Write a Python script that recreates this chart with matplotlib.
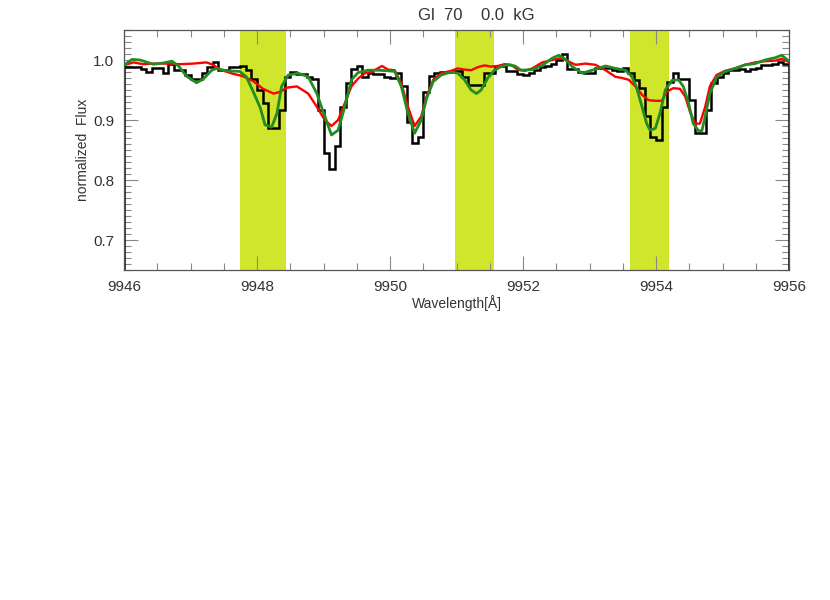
"""Gl 70 spectrum: observed flux vs. two model fits around 9950 A."""
import numpy as np
import matplotlib
matplotlib.use("Agg")
import matplotlib.pyplot as plt
from matplotlib.ticker import MultipleLocator

plt.rcParams["font.family"] = ["Liberation Sans Narrow", "Liberation Sans", "DejaVu Sans"]

# observed spectrum, binned (12 bins per Angstrom from 9946 A)
obs_start = 9946.0
obs_bin = 1.0 / 12.0
obs_flux = [
    0.989, 0.989, 0.989, 0.985, 0.980, 0.987, 0.987, 0.978, 0.994, 0.983,
    0.983, 0.975, 0.969, 0.969, 0.978, 0.989, 0.997, 0.983, 0.983, 0.989,
    0.989, 0.990, 0.983, 0.969, 0.950, 0.928, 0.887, 0.887, 0.917, 0.972,
    0.980, 0.977, 0.977, 0.972, 0.968, 0.917, 0.845, 0.818, 0.857, 0.922,
    0.962, 0.985, 0.990, 0.972, 0.978, 0.977, 0.977, 0.972, 0.970, 0.979,
    0.956, 0.896, 0.861, 0.872, 0.947, 0.973, 0.978, 0.980, 0.980, 0.981,
    0.982, 0.972, 0.959, 0.959, 0.959, 0.978, 0.978, 0.990, 0.990, 0.981,
    0.981, 0.977, 0.975, 0.979, 0.984, 0.988, 0.990, 0.993, 1.000, 1.010,
    0.985, 0.985, 0.980, 0.978, 0.978, 0.986, 0.986, 0.986, 0.983, 0.982,
    0.986, 0.978, 0.967, 0.953, 0.906, 0.872, 0.866, 0.922, 0.964, 0.978,
    0.968, 0.968, 0.933, 0.879, 0.879, 0.917, 0.962, 0.971, 0.978, 0.984,
    0.984, 0.985, 0.982, 0.985, 0.987, 0.992, 0.992, 0.994, 0.996, 0.993,
]

# model without Zeeman broadening (red), offsets from 9946 A
red_dl = [0.02, 0.14, 0.29, 0.44, 0.64, 0.84, 1.04, 1.24, 1.34, 1.44,
          1.64, 1.79, 1.94, 2.09, 2.25, 2.35, 2.45, 2.60, 2.77, 2.90,
          3.02, 3.12, 3.22, 3.32, 3.42, 3.52, 3.62, 3.72, 3.88, 3.97,
          4.07, 4.17, 4.27, 4.37, 4.47, 4.55, 4.65, 4.77, 4.92, 5.02,
          5.12, 5.22, 5.32, 5.42, 5.52, 5.62, 5.72, 5.82, 5.92, 6.03,
          6.14, 6.29, 6.44, 6.56, 6.64, 6.79, 6.94, 7.09, 7.24, 7.39,
          7.49, 7.59, 7.69, 7.79, 7.89, 7.99, 8.09, 8.16, 8.26, 8.36,
          8.44, 8.51, 8.59, 8.66, 8.74, 8.81, 8.91, 9.04, 9.19, 9.34,
          9.49, 9.64, 9.80, 9.89, 9.99]
red_flux = [0.992, 0.996, 0.993, 0.994, 0.994, 0.993, 0.994, 0.996, 0.992, 0.984,
            0.977, 0.973, 0.965, 0.952, 0.944, 0.947, 0.954, 0.956, 0.944, 0.922,
            0.900, 0.890, 0.900, 0.928, 0.956, 0.969, 0.978, 0.980, 0.990, 0.984,
            0.983, 0.961, 0.922, 0.890, 0.906, 0.939, 0.967, 0.978, 0.982, 0.986,
            0.984, 0.983, 0.988, 0.991, 0.989, 0.990, 0.993, 0.992, 0.984, 0.982,
            0.986, 0.996, 1.000, 1.003, 1.000, 0.992, 0.994, 0.992, 0.983, 0.972,
            0.970, 0.967, 0.956, 0.942, 0.933, 0.932, 0.932, 0.947, 0.953, 0.952,
            0.939, 0.914, 0.894, 0.894, 0.922, 0.956, 0.975, 0.982, 0.986, 0.992,
            0.996, 0.998, 0.999, 1.002, 0.997]

# best fit model (green)
grn_dl = [0.02, 0.12, 0.24, 0.44, 0.59, 0.72, 0.82, 0.94, 1.09, 1.19,
          1.32, 1.39, 1.54, 1.74, 1.84, 1.94, 2.05, 2.12, 2.22, 2.30,
          2.37, 2.47, 2.62, 2.77, 2.90, 3.02, 3.12, 3.22, 3.32, 3.42,
          3.52, 3.67, 3.82, 3.97, 4.07, 4.17, 4.27, 4.37, 4.47, 4.55,
          4.65, 4.77, 4.92, 5.02, 5.12, 5.22, 5.30, 5.37, 5.47, 5.57,
          5.67, 5.77, 5.88, 5.97, 6.14, 6.29, 6.44, 6.54, 6.64, 6.74,
          6.89, 7.04, 7.24, 7.39, 7.54, 7.64, 7.71, 7.79, 7.86, 7.91,
          7.99, 8.06, 8.14, 8.24, 8.34, 8.41, 8.49, 8.56, 8.64, 8.69,
          8.74, 8.81, 8.91, 9.04, 9.19, 9.34, 9.49, 9.64, 9.80, 9.89,
          9.99]
grn_flux = [0.993, 1.001, 1.000, 0.993, 0.995, 0.998, 0.990, 0.973, 0.962, 0.968,
            0.983, 0.986, 0.982, 0.981, 0.972, 0.948, 0.920, 0.892, 0.888, 0.911,
            0.956, 0.975, 0.978, 0.972, 0.944, 0.906, 0.875, 0.883, 0.922, 0.967,
            0.979, 0.983, 0.983, 0.982, 0.981, 0.956, 0.911, 0.878, 0.900, 0.936,
            0.964, 0.975, 0.980, 0.978, 0.967, 0.950, 0.944, 0.950, 0.970, 0.983,
            0.989, 0.992, 0.990, 0.983, 0.984, 0.991, 1.003, 1.008, 1.001, 0.989,
            0.978, 0.983, 0.990, 0.986, 0.983, 0.972, 0.953, 0.922, 0.894, 0.883,
            0.886, 0.911, 0.950, 0.966, 0.967, 0.956, 0.928, 0.894, 0.882, 0.882,
            0.906, 0.944, 0.971, 0.981, 0.986, 0.992, 0.994, 1.000, 1.004, 1.008,
            0.999]

# wavelength windows used for the fit
bands = [(9947.75, 9948.44), (9950.98, 9951.57), (9953.61, 9954.20)]

fig = plt.figure(figsize=(8.3, 6.0), dpi=100)
ax = fig.add_axes([124 / 830, 1 - 270 / 600, 665 / 830, 240 / 600])

for lo, hi in bands:
    ax.axvspan(lo, hi, color="#d0e62c", lw=0, zorder=0)

edges = obs_start + obs_bin * np.arange(len(obs_flux) + 1)
ax.stairs(obs_flux, edges, color="black", lw=1.8, zorder=2)
ax.plot(obs_start + np.array(red_dl), red_flux, color="#ff0000", lw=1.7, zorder=3)
ax.plot(obs_start + np.array(grn_dl), grn_flux, color="#228b22", lw=2.0, zorder=4)

ax.set_xlim(9946, 9956)
ax.set_ylim(0.65, 1.05)
ax.xaxis.set_major_locator(MultipleLocator(2))
ax.xaxis.set_minor_locator(MultipleLocator(0.5))
ax.yaxis.set_major_locator(MultipleLocator(0.1))
ax.yaxis.set_minor_locator(MultipleLocator(0.01))
ax.yaxis.set_major_formatter(plt.FormatStrFormatter("%.1f"))
ax.set_yticks([0.7, 0.8, 0.9, 1.0])
ax.tick_params(which="both", direction="in", top=True, right=True,
               color="#888888", labelsize=11, labelcolor="#333333")
ax.tick_params(which="major", length=10, width=0.8, pad=7)
ax.tick_params(which="minor", length=5, width=0.8)
for sp in ax.spines.values():
    sp.set_color("#555555")
    sp.set_linewidth(0.9)

ax.set_xlabel("Wavelength[Å]", fontsize=10, color="#333333", labelpad=1)
ax.set_ylabel("normalized  Flux", fontsize=10, color="#333333", labelpad=2)
fig.text(476 / 830, 1 - 16 / 600, "Gl  70    0.0  kG", ha="center", va="center",
         fontsize=12, color="#333333")

fig.savefig("out.png", dpi=100)
